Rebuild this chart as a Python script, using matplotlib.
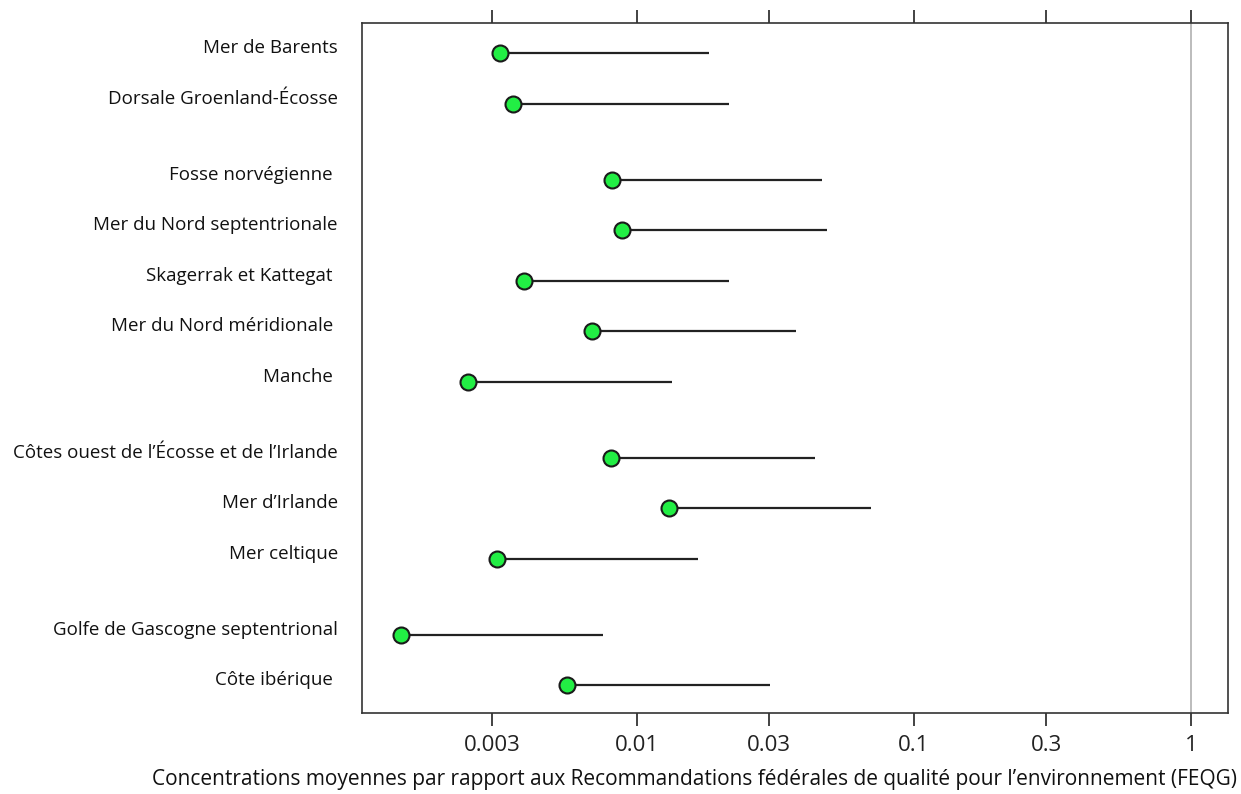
import matplotlib.pyplot as plt
import numpy as np

plt.rcParams['font.family'] = ['Open Sans', 'DejaVu Sans']

regions = ["Mer de Barents", "Dorsale Groenland-Écosse",
           "Fosse norvégienne ", "Mer du Nord septentrionale",
           "Skagerrak et Kattegat ", "Mer du Nord méridionale ", "Manche ",
           "Côtes ouest de l\u2019Écosse et de l\u2019Irlande", "Mer d\u2019Irlande",
           "Mer celtique",
           "Golfe de Gascogne septentrional", "Côte ibérique "]
rows = [0, 1, 2.5, 3.5, 4.5, 5.5, 6.5, 8, 9, 10, 11.5, 12.5]
mean_vals = [0.0032, 0.00357, 0.00812, 0.00883, 0.00391, 0.00688, 0.00247,
             0.00806, 0.01305, 0.00312, 0.00141, 0.00559]
upper_vals = [0.0182, 0.0215, 0.0465, 0.0485, 0.0215, 0.0375, 0.0134,
              0.0439, 0.070, 0.0167, 0.00754, 0.0302]
ticks = [0.003, 0.01, 0.03, 0.1, 0.3, 1]
tick_labels = ["0.003", "0.01", "0.03", "0.1", "0.3", "1"]

fig = plt.figure(figsize=(12.41, 7.94), dpi=100)
ax = fig.add_axes([362/1241, 1-713/794, 866/1241, 690/794])

ax.axvline(1, color='#b0b0b0', lw=1.2, zorder=1)
ax.hlines(rows, mean_vals, upper_vals, color='#222222', lw=1.6, zorder=2)
ax.plot(mean_vals, rows, 'o', ms=11.5, mfc='#22ee44', mec='#1a1a1a', mew=1.5, zorder=3)

ax.set_xscale('log')
ax.set_xlim(0.00102, 1.36)
ax.set_ylim(13.05, -0.6)
ax.set_xticks(ticks)
ax.set_xticklabels(tick_labels)
ax.minorticks_off()
ax.tick_params(axis='x', which='major', direction='out', length=9.5, width=1.2,
               top=True, labeltop=False, labelsize=16, pad=6, colors='#222222')
ax.tick_params(axis='y', left=False, labelleft=False)
for s in ax.spines.values():
    s.set_linewidth(1.2)
    s.set_color('#333333')

for name, r in zip(regions, rows):
    ax.text(-0.028, r - 0.1, name, transform=ax.get_yaxis_transform(),
            ha='right', va='center', fontsize=13.5, color='#111111')

fig.text(1237/1241, 1-779/794,
         "Concentrations moyennes par rapport aux Recommandations fédérales de qualité pour l\u2019environnement (FEQG)",
         ha='right', va='center', fontsize=15, color='#111111')

fig.savefig("out.png", dpi=100)
